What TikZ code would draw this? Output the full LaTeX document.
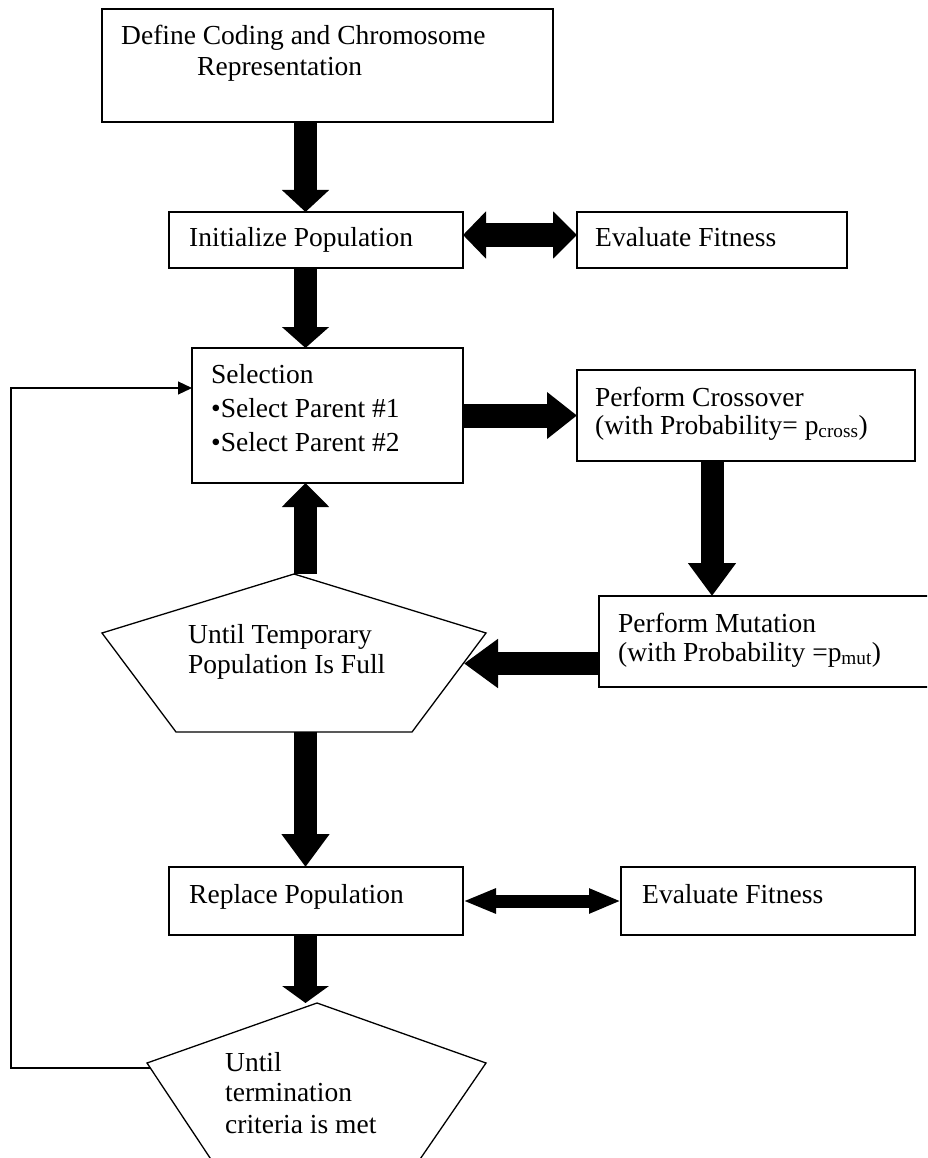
\documentclass[tikz,border=0pt]{standalone}
\usepackage{fontspec}
\setmainfont{Liberation Serif}
\usetikzlibrary{arrows.meta}
\begin{document}
\begin{tikzpicture}[x=1pt,y=-1pt,
  box/.style={draw, line width=1.3pt, rectangle, inner sep=0pt, outer sep=0pt, anchor=north west},
  txt/.style={anchor=base west, inner sep=0pt, font=\fontsize{27.5pt}{33pt}\selectfont},
  outline/.style={draw, line width=1.3pt, line join=miter},
  fat/.style={line width=23pt, -{Triangle[width=46pt,length=#1]}},
  thinarrow/.style={line width=1.2pt, -{Triangle[width=13pt,length=14pt]}}]
\useasboundingbox (0,0) rectangle (927,1158);
\clip (0,0) rectangle (927,1158);

% boxes
\node[box, minimum width=451pt, minimum height=113pt] (def) at (102,9) {};
\node[box, minimum width=294pt, minimum height=56pt] (init) at (169,212) {};
\node[box, minimum width=270pt, minimum height=56pt] (ev1) at (577,212) {};
\node[box, minimum width=271pt, minimum height=135pt] (sel) at (192,348) {};
\node[box, minimum width=338pt, minimum height=91pt] (cross) at (577,370) {};
\node[box, minimum width=345pt, minimum height=91pt] (mut) at (599,596) {};
\node[box, minimum width=294pt, minimum height=68pt] (rep) at (169,867) {};
\node[box, minimum width=294pt, minimum height=68pt] (ev2) at (621,867) {};

% pentagons
\coordinate (p1t) at (294,574);
\coordinate (p1r) at (486,633);
\coordinate (p1br) at (412,732);
\coordinate (p1bl) at (176,732);
\coordinate (p1l) at (102,633);
\draw[outline] (p1t) -- (p1r) -- (p1br) -- (p1bl) -- (p1l) -- cycle;
\coordinate (p1tip) at (464,663.5);

\coordinate (p2t) at (317,1003);
\coordinate (p2r) at (486,1063);
\coordinate (p2br) at (392,1200);
\coordinate (p2bl) at (238,1200);
\coordinate (p2l) at (147,1063);
\draw[outline] (p2t) -- (p2r) -- (p2br) -- (p2bl) -- (p2l) -- cycle;
\coordinate (fbend) at (150,1068);

% guide coordinates
\coordinate (ax) at (305.5,0);
\coordinate (mx) at (712,0);
\coordinate (fbx) at (11,0);
\coordinate (fby) at (0,388);

% texts
\node[txt] (t1) at (121,45) {Define Coding and Chromosome};
\node[txt] (t2) at (197,76) {Representation};
\node[txt] (t3) at (189,247) {Initialize Population};
\node[txt] (t4) at (595,247) {Evaluate Fitness};
\node[txt] (t5) at (211,383) {Selection};
\node[txt] (t6) at (211,417) {•Select Parent \#1};
\node[txt] (t7) at (211,451) {•Select Parent \#2};
\node[txt] (t8) at (595,406) {Perform Crossover};
\node[txt] (t9) at (595,434) {(with Probability= p\textsubscript{cross})};
\node[txt] (t10) at (618,632) {Perform Mutation};
\node[txt] (t11) at (618,661) {(with Probability =p\textsubscript{mut})};
\node[txt] (t12) at (188,643) {Until Temporary};
\node[txt] (t13) at (188,673) {Population Is Full};
\node[txt] (t14) at (189,903) {Replace Population};
\node[txt] (t15) at (642,903) {Evaluate Fitness};
\node[txt] (t16) at (225,1071) {Until};
\node[txt] (t17) at (225,1101) {termination};
\node[txt] (t18) at (225,1133) {criteria is met};

% connectors
\draw[fat=22pt] (def.south -| ax) -- (init.north -| ax);
\draw[fat=21pt] (init.south -| ax) -- (sel.north -| ax);
\draw[line width=24pt, {Triangle[width=46pt,length=23pt]}-{Triangle[width=46pt,length=24pt]}]
  ([yshift=5pt]init.east) -- ([yshift=5pt]ev1.west);
\draw[line width=24pt, -{Triangle[width=45pt,length=30pt]}] (sel.east) -- (cross.west);
\draw[fat=33pt] (cross.south -| mx) -- (mut.north -| mx);
\draw[line width=23pt, -{Triangle[width=47pt,length=34pt]}] (mut.west |- p1tip) -- (p1tip);
\draw[fat=24pt] (ax |- p1t) -- (sel.south -| ax);
\draw[fat=33pt] (ax |- p1bl) -- (rep.north -| ax);
\draw[line width=13pt, {Triangle[width=23pt,length=33pt]}-{Triangle[width=23pt,length=32pt]}]
  (rep.east) -- (ev2.west);
\draw[fat=17pt] (rep.south -| ax) -- (ax |- p2t);
\draw[thinarrow] (fbend) -- (fbx |- fbend) -- (fbx |- fby) -- (sel.west |- fby);
\end{tikzpicture}
\end{document}
